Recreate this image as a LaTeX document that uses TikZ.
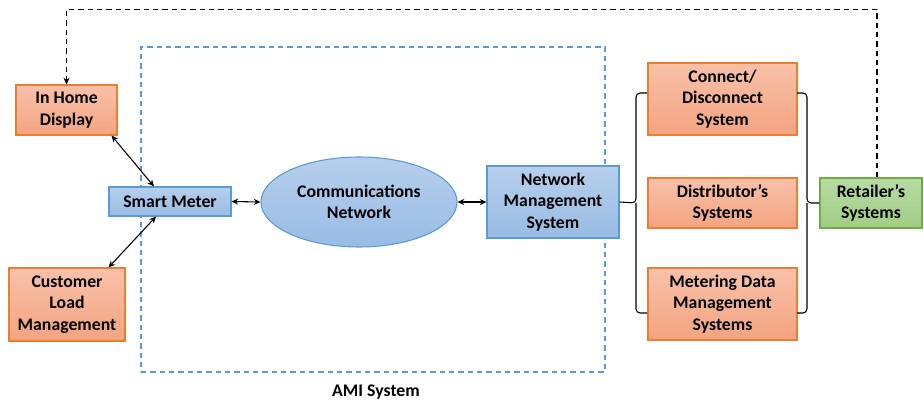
\documentclass[tikz,border=0pt]{standalone}
\usepackage{fontspec}
\setmainfont{Carlito}
\usetikzlibrary{positioning, shapes.geometric, arrows.meta}
\definecolor{ortop}{RGB}{248,193,170}
\definecolor{orbot}{RGB}{244,164,128}
\definecolor{orline}{RGB}{237,125,49}
\definecolor{bltop}{RGB}{183,207,236}
\definecolor{blbot}{RGB}{152,188,228}
\definecolor{blline}{RGB}{91,155,213}
\definecolor{grtop}{RGB}{184,219,163}
\definecolor{grbot}{RGB}{160,205,133}
\definecolor{grline}{RGB}{112,173,71}
\tikzset{
  box/.style={draw, line width=0.8pt, align=center, inner sep=0pt},
  orbox/.style={box, draw=orline, top color=ortop, bottom color=orbot},
  blbox/.style={box, draw=blline, top color=bltop, bottom color=blbot},
  grbox/.style={box, draw=grline, top color=grtop, bottom color=grbot},
  amibox/.style={draw=blline, line width=0.9pt, dash pattern=on 4pt off 3pt},
  link/.style={<->, line width=0.8pt},
  brace/.style={line width=0.8pt, rounded corners=3pt}
}

\begin{document}
\begin{tikzpicture}[x=0.75pt, y=-0.75pt, >={Stealth[length=5pt, width=4.5pt]}, font=\fontsize{13.3}{16.2}\selectfont\bfseries]
\useasboundingbox (0,0) rectangle (924,403);

% AMI system frame
\node[amibox, minimum width=348pt, minimum height=243.75pt] (ami) at (373,209.5) {};
\node (amilbl) at (376,392) {AMI System};

% customer side
\node[orbox, minimum width=75.75pt, minimum height=37.5pt] (ihd) at (66.5,110) {In Home\\Display};
\node[orbox, minimum width=87pt, minimum height=54.75pt] (clm) at (67,304.5) {Customer\\Load\\Management};
\node[blbox, minimum width=91.5pt, minimum height=21.75pt] (sm) at (170,201.5) {Smart Meter};

% network
\node[blbox, ellipse, minimum width=147pt, minimum height=67.5pt] (comm) at (359,202) {Communications\\Network};
\node[blbox, minimum width=99pt, minimum height=54pt] (nms) at (553,202) {Network\\Management\\System};

% back office
\node[orbox, minimum width=111.75pt, minimum height=54pt] (cds) at (722.5,99) {Connect/\\Disconnect\\System};
\node[orbox, minimum width=111.75pt, minimum height=37.5pt] (dist) at (722.5,203) {Distributor’s\\Systems};
\node[orbox, minimum width=111.75pt, minimum height=54pt] (mdm) at (722.5,304) {Metering Data\\Management\\Systems};
\node[grbox, minimum width=76.5pt, minimum height=37.5pt] (ret) at (871,203) {Retailer’s\\Systems};

\draw[link] ([xshift=-4.5pt]ihd.south east) -- ([xshift=-12pt]sm.north);
\draw[link] ([xshift=-12.75pt]clm.north east) -- ([xshift=-10.5pt]sm.south);
\draw[link] (sm.east) -- (comm.west);
\draw[link] (comm.east) -- (nms.west);

% braces
\coordinate (lmid) at (636,203);
\draw[brace] (647,93) -| (lmid) -- (nms.east);
\draw[brace] (647,313) -| (lmid);
\coordinate (rmid) at (807,203);
\draw[brace] (797,93) -| (rmid) -- (ret.west);
\draw[brace] (797,313) -| (rmid);

\draw[->, line width=1pt, dash pattern=on 4pt off 3pt] ([xshift=4.5pt]ret.north) |- ([yshift=56.25pt]ihd.north) -- (ihd.north);

\end{tikzpicture}
\end{document}
